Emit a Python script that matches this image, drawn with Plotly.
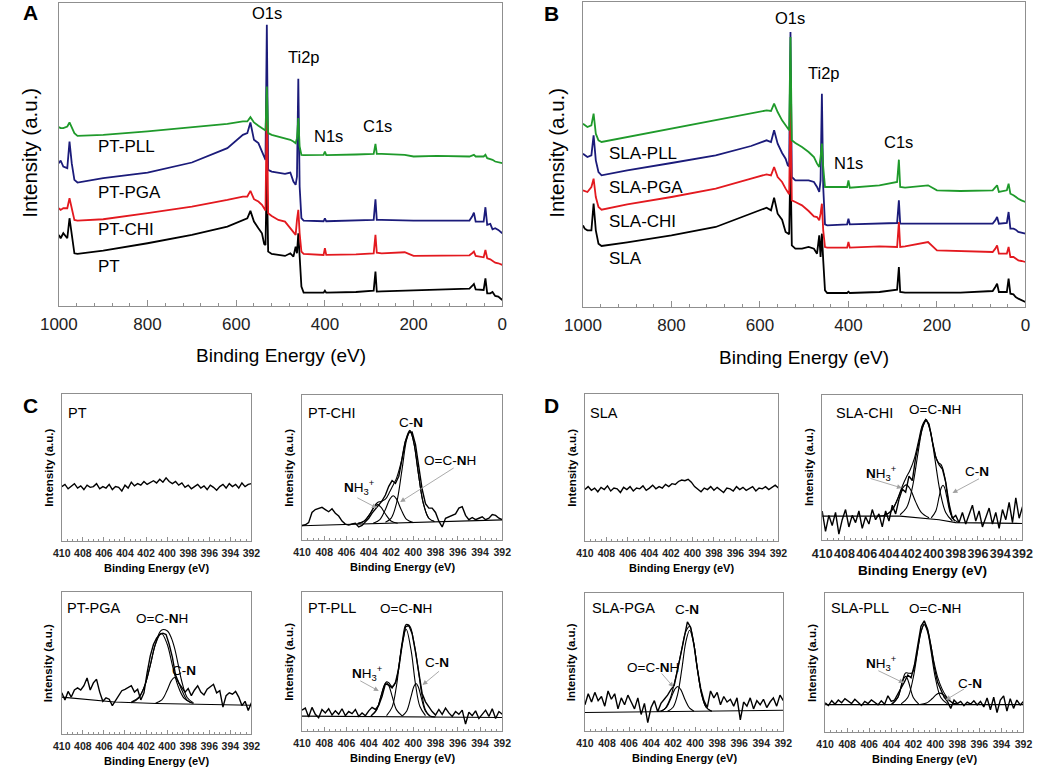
import plotly.graph_objects as go

W, H = 1050, 772
FONT = "Liberation Sans, Arial, Helvetica, sans-serif"
BOX = "#8f8f8f"

# ---- survey spectra (A, B): binding energy (eV) / intensity (a.u.) ----
SURVEY_EV = [1000, 996, 990, 981, 976, 971, 965, 958, 900, 800, 700, 620,
             585, 575, 568, 560, 550, 542, 537, 534, 531, 528, 520, 505,
             490, 478, 471, 466, 463, 460, 457, 453, 448, 403, 400, 397,
             330, 290, 286, 283, 272, 220, 200, 147, 74, 68, 64, 60,
             42, 38, 34, 27, 22, 16, 9, 0]

A_PT = [213, 203, 218, 203, 263, 218, 158, 156, 166, 188, 213, 238,
        258, 263, 285, 253, 233, 218, 186, 183, 398, 163, 156, 153,
        150, 158, 148, 178, 158, 218, 128, 58, 40, 40, 46, 40,
        42, 46, 103, 43, 44, 46, 46, 50, 52, 60, 66, 50,
        48, 83, 38, 38, 42, 30, 28, 18]
A_CHI = [293, 288, 293, 293, 323, 288, 258, 256, 260, 278, 298, 318,
         328, 328, 345, 320, 313, 303, 290, 286, 618, 278, 270, 258,
         253, 233, 218, 213, 258, 288, 218, 163, 156, 153, 173, 153,
         155, 158, 213, 160, 158, 161, 150, 150, 152, 158, 163, 150,
         146, 168, 143, 140, 136, 130, 128, 123]
A_PGA = [428, 436, 418, 413, 493, 428, 378, 370, 383, 400, 430, 473,
         513, 518, 550, 498, 488, 463, 443, 438, 843, 408, 403, 400,
         396, 400, 373, 363, 388, 681, 358, 263, 256, 254, 263, 254,
         256, 258, 320, 258, 258, 256, 256, 256, 256, 268, 280, 253,
         253, 296, 243, 246, 230, 233, 228, 218]
A_PLL = [536, 533, 533, 538, 550, 533, 518, 510, 513, 523, 536, 546,
         553, 553, 566, 550, 540, 533, 528, 526, 658, 518, 513, 508,
         503, 498, 493, 488, 503, 563, 478, 453, 452, 453, 463, 452,
         454, 456, 486, 456, 456, 453, 448, 450, 448, 451, 453, 448,
         448, 453, 443, 440, 438, 433, 431, 428]

B_SLA = [245, 235, 230, 230, 310, 230, 190, 183, 194, 215, 240, 280,
         298, 290, 328, 280, 262, 225, 220, 218, 440, 185, 175, 175,
         180, 175, 160, 215, 150, 220, 140, 50, 42, 42, 46, 42,
         45, 52, 120, 45, 43, 42, 43, 43, 48, 60, 70, 45,
         45, 85, 40, 38, 30, 25, 20, 15]
B_CHI = [350, 348, 345, 360, 385, 330, 300, 292, 308, 330, 355, 385,
         398, 395, 420, 390, 375, 355, 342, 338, 620, 320, 315, 305,
         288, 272, 270, 260, 280, 310, 230, 180, 178, 178, 195, 178,
         182, 180, 255, 180, 182, 195, 170, 168, 165, 175, 185, 160,
         160, 180, 150, 150, 145, 140, 138, 135]
B_PGA = [460, 455, 450, 455, 515, 440, 405, 395, 410, 432, 455, 483,
         500, 495, 530, 490, 462, 445, 425, 422, 825, 390, 380, 380,
         380, 375, 360, 345, 380, 640, 360, 248, 245, 248, 265, 248,
         250, 252, 320, 250, 250, 250, 250, 250, 250, 260, 270, 250,
         252, 285, 235, 235, 232, 225, 222, 220]
B_PLL = [550, 545, 540, 545, 580, 520, 500, 495, 510, 535, 560, 582,
         590, 588, 610, 585, 560, 545, 535, 530, 810, 500, 492, 480,
         465, 450, 430, 420, 450, 490, 420, 360, 360, 360, 380, 358,
         365, 375, 442, 360, 358, 365, 350, 348, 350, 358, 365, 345,
         350, 370, 340, 335, 330, 325, 320, 315]

BLACK, RED, NAVY, GREEN = "#000000", "#e3191f", "#1b1b7a", "#1f9a2b"

# ---- N1s high resolution spectra (C, D) ----
N1S_EV = [410.0, 409.7, 409.4, 409.1, 408.8, 408.5, 408.2, 407.9, 407.6, 407.3,
          407.0, 406.7, 406.4, 406.1, 405.8, 405.5, 405.2, 404.9, 404.6, 404.3,
          404.0, 403.7, 403.4, 403.1, 402.8, 402.5, 402.2, 401.9, 401.6, 401.3,
          401.0, 400.7, 400.4, 400.1, 399.8, 399.5, 399.2, 398.9, 398.6, 398.3,
          398.0, 397.7, 397.4, 397.1, 396.8, 396.5, 396.2, 395.9, 395.6, 395.3,
          395.0, 394.7, 394.4, 394.1, 393.8, 393.5, 393.2, 392.9, 392.6, 392.3,
          392.0]

PT_RAW = [37, 38.5, 35.5, 37, 39, 36, 37.5, 35, 38, 36.5,
          37, 39, 35.5, 37, 36, 38.5, 35, 37, 36.5, 34,
          38, 36, 40, 37.5, 39, 38, 40.5, 38.5, 40, 41,
          39.5, 42, 40, 43, 40.5, 39, 40.5, 38, 39.5, 36.5,
          38, 35.5, 37, 38.5, 36, 37.5, 35, 38, 36.5, 34.5,
          37, 38.5, 36, 39, 37, 38.5, 36, 39.5, 37, 38.5,
          39]
PT_CHI_RAW = [10, 10.5, 12, 19, 21, 21.5, 22.5, 21, 19.5, 21.5,
              18.5, 16.5, 13, 11, 10.3, 11, 11.5, 9, 10, 12.5,
              15, 18.5, 21.5, 24.5, 27, 31, 37, 41, 39, 44,
              57, 68, 74, 74.5, 66, 50, 35, 25, 22, 22,
              19, 13, 9, 15, 16, 16.5, 18, 22, 23, 17,
              14, 15.5, 14, 15, 16, 14, 15, 17.5, 17, 15,
              14]
PT_PGA_RAW = [29, 24, 30, 26, 31, 32.5, 31, 34, 39.5, 31,
              36, 38.5, 29.5, 23, 25.5, 24.5, 20, 23.5, 27, 30.5,
              31.5, 33, 34, 29.5, 31.5, 24, 29, 43, 55, 63,
              67.5, 70, 71, 70, 63, 54, 41.5, 36, 32.5, 29.5,
              32, 27, 31, 34, 29.5, 27.5, 31.5, 33, 35, 29,
              30.5, 19, 27, 29, 28, 30, 26, 20, 23, 16.5,
              22]
PT_PLL_RAW = [15, 16.5, 10, 17, 12, 9.5, 15.5, 13, 16, 11.5,
              14.5, 12, 16, 11, 14, 12.5, 15.5, 10.5, 13, 11,
              14.5, 17, 15.5, 18.5, 25, 34, 33, 31, 35, 45,
              62, 75, 76, 70, 57, 42, 27, 21, 17.5, 14,
              11.5, 15.5, 12, 16.5, 13, 10.5, 14, 12, 15, 5,
              13.5, 11, 14.5, 9, 12, 15, 10.5, 16, 9, 14,
              12]
SLA_RAW = [35, 37, 34.5, 36, 33.5, 36.5, 35, 37.5, 34, 36,
           35.5, 33, 36.5, 35, 37, 34, 36, 35.5, 37.5, 34.5,
           36, 38, 35.5, 37, 36, 38.5, 37, 39, 38.5, 40.5,
           41.5, 41, 42, 40, 37, 35.5, 33.5, 36, 35, 37,
           34.5, 36.5, 35, 33, 36, 35.5, 34, 37, 35, 36.5,
           34.5, 35.5, 37, 34, 36, 35.5, 37, 35, 36.5, 38,
           36]
SLA_CHI_RAW = [20, 6, 17, 10, 19, 4, 14, 21, 9, 17,
               12, 20, 8, 16, 11, 21, 14, 18, 9, 20,
               13, 24, 18, 28, 35, 33, 44, 41, 57, 68,
               78, 83, 80, 68, 57, 52, 49, 40, 25, 15,
               17, 12, 19, 11, 18, 24, 13, 20, 9, 16,
               22, 11, 19, 8, 21, 14, 26, 12, 29, 15,
               23]
SLA_PGA_RAW = [19, 27, 21, 28, 22, 25, 18, 29, 23, 27,
               16, 24, 19, 26, 21, 16, 24, 12, 20, 6,
               17, 22, 14, 20, 23, 26, 30, 33, 44, 55,
               68, 79, 75, 62, 45, 31, 22, 17, 29, 24,
               28, 19, 25, 21, 23, 18, 24, 8, 21, 18,
               24, 16, 22, 19, 23, 17, 21, 24, 18, 26,
               22]
SLA_PLL_RAW = [21, 19, 22.5, 20, 23, 21, 24, 22, 20.5, 23.5,
               21, 19, 22, 20.5, 23, 21, 19.5, 22.5, 20, 26,
               22, 23, 27, 31, 36, 41, 39, 48, 63, 76,
               80, 74, 62, 47, 36, 30, 25, 22, 17, 23,
               20.5, 22, 19, 21.5, 20, 22.5, 19.5, 22, 18, 24.5,
               16, 25, 14, 23, 26, 15, 24, 17, 23, 19.5,
               22]

# fitted components: (energies, intensities)
PT_CHI_BASE = ([410, 392], [9.8, 13.9])
PT_CHI_NH3 = ([405.0, 404.4, 403.9, 403.5, 403.2, 402.9, 402.5, 402.0, 401.4],
              [11.3, 13.0, 17.8, 22.6, 24.4, 22.6, 17.9, 13.1, 11.6])
PT_CHI_OCNH = ([403.6, 403.0, 402.5, 402.1, 401.8, 401.5, 401.1, 400.6, 400.0],
               [11.5, 14.1, 21.1, 28.2, 30.5, 28.2, 21.2, 14.2, 12.0])
PT_CHI_CN = ([402.5, 402.0, 401.5, 401.0, 400.6, 400.3, 400.0, 399.6, 399.1, 398.6, 398.1],
             [12.3, 14.9, 25.4, 49, 69, 75, 69, 49, 25.5, 15, 12.8])
PT_CHI_SUM = ([405.0, 404.4, 403.9, 403.5, 403.2, 402.9, 402.5, 402.1, 401.8, 401.5,
               401.1, 400.7, 400.3, 399.9, 399.5, 399.1, 398.6, 398.1],
              [11.3, 13.1, 17.9, 23.3, 25.9, 26.6, 28.2, 33.4, 38.0, 42.7,
               53.3, 68.5, 75.6, 65.1, 43.7, 25.5, 15.0, 12.8])

PT_PGA_BASE = ([410, 405, 401, 396, 392], [26, 22.5, 21.5, 20.8, 20.2])
PT_PGA_OCNH = ([403.4, 402.7, 402.1, 401.6, 401.1, 400.55, 400.0, 399.5, 399.0, 398.4, 397.7],
               [22, 25.3, 34.6, 48.4, 63.4, 71, 63.4, 48.4, 34.6, 25.3, 22])
PT_PGA_CN = ([401.1, 400.5, 400.0, 399.6, 399.3, 399.0, 398.6, 398.1, 397.5],
             [21.7, 24.0, 30.8, 37.6, 39.8, 37.6, 30.8, 23.9, 21.4])
PT_PGA_SUM = ([403.4, 402.7, 402.1, 401.6, 401.1, 400.55, 400.0, 399.6, 399.3, 399.0,
               398.6, 398.1, 397.5],
              [22.5, 25.8, 34.6, 48.4, 63.6, 73.1, 72.7, 67.6, 60.6, 50.7,
               36.8, 25.7, 21.9])

PT_PLL_BASE = ([410, 392], [10.7, 9.7])
PT_PLL_NH3 = ([403.8, 403.3, 402.9, 402.6, 402.4, 402.2, 401.9, 401.5, 401.0],
              [10.9, 15.2, 25.1, 32.8, 34.7, 32.8, 25.1, 15.2, 10.9])
PT_PLL_OCNH = ([402.4, 401.9, 401.5, 401.1, 400.64, 400.2, 399.8, 399.4, 398.9],
               [11.1, 17.2, 32.8, 57.2, 73.2, 58.3, 33.8, 17.6, 11.1])
PT_PLL_CN = ([401.0, 400.6, 400.2, 399.95, 399.75, 399.55, 399.3, 398.9, 398.5],
             [10.7, 14.2, 24.8, 31.9, 34.2, 31.9, 24.8, 14.2, 10.7])
PT_PLL_SUM = ([403.8, 403.3, 402.9, 402.6, 402.4, 402.2, 401.9, 401.6, 401.3, 401.0,
               400.64, 400.3, 400.0, 399.75, 399.5, 399.2, 398.9, 398.5, 398.0],
              [10.7, 15.0, 24.9, 32.9, 35.4, 34.7, 31.9, 34.5, 46.8, 63.8,
               76.6, 75.3, 66.5, 55.2, 41.2, 25.1, 15.1, 10.8, 10.2])

SLA_CHI_BASE = ([410, 403, 399.5, 398, 392], [16.5, 16.5, 14, 12, 11.4])
SLA_CHI_NH3 = ([404.5, 403.8, 403.3, 402.8, 402.45, 402.1, 401.6, 401.1, 400.4],
               [16.8, 19.9, 26.8, 35.5, 38.0, 35.3, 26.3, 19.1, 15.3])
SLA_CHI_OCNH = ([403.0, 402.4, 401.9, 401.4, 401.0, 400.66, 400.3, 399.9, 399.4, 398.9, 398.3],
                [17.4, 22.6, 36.1, 59.4, 76.7, 82.2, 75.5, 57.3, 33.2, 19.0, 13.1])
SLA_CHI_CN = ([400.2, 399.8, 399.5, 399.3, 399.14, 399.0, 398.8, 398.5, 398.1],
              [15.3, 19.8, 29.5, 36.0, 37.8, 36.1, 29.6, 18.9, 12.9])
SLA_CHI_SUM = ([405.0, 404.3, 403.7, 403.2, 402.8, 402.45, 402.1, 401.7, 401.3, 401.0,
                400.66, 400.3, 400.0, 399.6, 399.3, 399.0, 398.7, 398.3, 397.8],
               [16.5, 17.2, 21.0, 28.9, 37.1, 43.1, 48.3, 56.7, 69.8, 79.2,
                83.0, 75.9, 64.2, 53.7, 51.8, 43.9, 28.8, 15.3, 12.2])

SLA_PGA_BASE = ([410, 392], [13.4, 15])
SLA_PGA_OCNH = ([403.1, 402.6, 402.2, 401.85, 401.58, 401.3, 400.9, 400.5, 400.1],
                [14.2, 17.1, 23.6, 30.2, 32.3, 30.0, 22.4, 16.5, 14.4])
SLA_PGA_CN = ([402.5, 402.0, 401.6, 401.2, 400.85, 400.5, 400.15, 399.8, 399.4, 399.0, 398.5],
              [14.3, 17.2, 26.2, 45.2, 64.3, 73.0, 64.3, 45.2, 26.2, 17.2, 14.3])
SLA_PGA_SUM = ([403.4, 402.8, 402.3, 401.9, 401.58, 401.2, 400.85, 400.5, 400.15, 399.8,
                399.4, 399.0, 398.5],
               [14.1, 15.7, 22.8, 34.2, 45.4, 59.8, 72.0, 75.7, 64.9, 45.3,
                26.2, 17.2, 14.3])

SLA_PLL_BASE = ([410, 392], [19.7, 19.7])
SLA_PLL_NH3 = ([403.9, 403.4, 403.05, 402.85, 402.7, 402.55, 402.35, 402.0, 401.5],
               [20.0, 24.8, 34.0, 38.7, 40.0, 38.7, 34.0, 24.8, 20.0])
SLA_PLL_OCNH = ([403.1, 402.5, 402.0, 401.6, 401.3, 401.0, 400.7, 400.4, 400.0, 399.5, 398.9],
                [20.2, 24.8, 39.2, 58.7, 71.9, 77.2, 71.9, 58.7, 39.2, 24.8, 20.2])
SLA_PLL_CN = ([401.4, 400.8, 400.3, 399.9, 399.6, 399.3, 398.9, 398.4, 397.8],
              [19.8, 20.8, 23.9, 27.0, 28.0, 27.0, 23.9, 20.8, 19.8])
SLA_PLL_SUM = ([404.0, 403.4, 403.0, 402.7, 402.4, 402.1, 401.8, 401.5, 401.25, 401.0,
                400.7, 400.4, 400.1, 399.8, 399.4, 399.0, 398.5, 398.0],
               [19.9, 24.9, 36.2, 42.5, 42.3, 42.5, 50.5, 63.9, 73.6, 77.7,
                73.4, 62.1, 49.5, 39.7, 31.2, 25.5, 21.3, 19.9])

for arr in [A_PT, A_CHI, A_PGA, A_PLL, B_SLA, B_CHI, B_PGA, B_PLL]:
    assert len(arr) == len(SURVEY_EV), len(arr)
for arr in [PT_RAW, PT_CHI_RAW, PT_PGA_RAW, PT_PLL_RAW,
            SLA_RAW, SLA_CHI_RAW, SLA_PGA_RAW, SLA_PLL_RAW]:
    assert len(arr) == len(N1S_EV), len(arr)


def xdom(l, r):
    return [l / W, r / W]


def ydom(t, b):
    return [1 - b / H, 1 - t / H]


def px(x, y):
    return x / W, 1 - y / H


fig = go.Figure()


def add_line(xs, ys, ax, color=BLACK, width=1.0, shape="linear"):
    fig.add_trace(go.Scatter(
        x=xs, y=ys, mode="lines", xaxis="x" + ax, yaxis="y" + ax,
        line=dict(color=color, width=width, shape=shape),
        hoverinfo="skip", showlegend=False))


axes = {}

# survey panels: draw order black, navy, red, green
SURVEYS = [
    ("", (41, 497, 3, 306), 908, [(A_PT, BLACK), (A_PGA, NAVY), (A_CHI, RED), (A_PLL, GREEN)]),
    ("2", (580, 1035, 2, 307), 915, [(B_SLA, BLACK), (B_PGA, NAVY), (B_CHI, RED), (B_PLL, GREEN)]),
]
for ax, (l, r, t, b), ytop, series in SURVEYS:
    for vals, col in series:
        add_line(SURVEY_EV, vals, ax, col, 1.8)
    axes["xaxis" + ax] = dict(
        domain=xdom(l, r), anchor="y" + ax, range=[1000, 0], tick0=0, dtick=200,
        ticks="inside", ticklen=6, tickcolor=BOX,
        minor=dict(dtick=40, ticks="inside", ticklen=3, tickcolor=BOX),
        showline=True, linecolor=BOX, linewidth=1, mirror=True,
        showgrid=False, zeroline=False, tickangle=0, ticklabelstandoff=3,
        tickfont=dict(family=FONT, size=17, color="#222"))
    axes["yaxis" + ax] = dict(
        domain=ydom(t, b), anchor="x" + ax, range=[0, ytop],
        showticklabels=False, ticks="", showline=True, linecolor=BOX,
        linewidth=1, mirror=True, showgrid=False, zeroline=False)

SMALL = [
    ("3", (44, 239, 394, 541), PT_RAW, [], 10.5),
    ("4", (291, 497, 395, 540), PT_CHI_RAW,
     [PT_CHI_BASE, PT_CHI_NH3, PT_CHI_OCNH, PT_CHI_CN, PT_CHI_SUM], 10.5),
    ("5", (44, 239, 592, 734), PT_PGA_RAW,
     [PT_PGA_BASE, PT_PGA_OCNH, PT_PGA_CN, PT_PGA_SUM], 10.5),
    ("6", (291, 497, 592, 731), PT_PLL_RAW,
     [PT_PLL_BASE, PT_PLL_NH3, PT_PLL_OCNH, PT_PLL_CN, PT_PLL_SUM], 10.5),
    ("7", (582, 781, 394, 541), SLA_RAW, [], 10.5),
    ("8", (826, 1032, 395, 540), SLA_CHI_RAW,
     [SLA_CHI_BASE, SLA_CHI_NH3, SLA_CHI_OCNH, SLA_CHI_CN, SLA_CHI_SUM], 12.5),
    ("9", (582, 786, 593, 731), SLA_PGA_RAW,
     [SLA_PGA_BASE, SLA_PGA_OCNH, SLA_PGA_CN, SLA_PGA_SUM], 10.5),
    ("10", (829, 1033, 593, 732), SLA_PLL_RAW,
     [SLA_PLL_BASE, SLA_PLL_NH3, SLA_PLL_OCNH, SLA_PLL_CN, SLA_PLL_SUM], 10.5),
]

annotations = []


def note(x, y, text, size, bold=False, anchor="center", angle=0):
    ax_, ay_ = px(x, y)
    annotations.append(dict(
        x=ax_, y=ay_, xref="paper", yref="paper", text=text, showarrow=False,
        xanchor=anchor, yanchor="middle", textangle=angle,
        font=dict(family=FONT, size=size, color="black",
                  weight="bold" if bold else "normal")))


def arrow(x0, y0, x1, y1):
    hx, hy = px(x1, y1)
    annotations.append(dict(
        x=hx, y=hy, xref="paper", yref="paper", text="", showarrow=True,
        ax=x0 - x1, ay=y0 - y1, arrowhead=2, arrowsize=1.1, arrowwidth=0.9,
        arrowcolor="#a0a0a0"))


for ax, (l, r, t, b), raw, fits, tsize in SMALL:
    for ev, v in fits:
        shape = "linear" if len(ev) <= 5 else "spline"
        add_line(ev, v, ax, BLACK, 1.1, shape)
    add_line(N1S_EV, raw, ax, BLACK, 1.4)
    axes["xaxis" + ax] = dict(
        domain=xdom(l, r), anchor="y" + ax, range=[410, 392], tick0=0, dtick=2,
        ticks="inside", ticklen=4, tickcolor=BOX,
        minor=dict(dtick=0.5, ticks="inside", ticklen=2, tickcolor=BOX),
        showline=True, linecolor=BOX, linewidth=1, mirror=True,
        showgrid=False, zeroline=False, tickangle=0, ticklabelstandoff=2,
        tickfont=dict(family=FONT, size=tsize, color="#222", weight="bold"))
    axes["yaxis" + ax] = dict(
        domain=ydom(t, b), anchor="x" + ax, range=[0, 100],
        showticklabels=False, ticks="", showline=True, linecolor=BOX,
        linewidth=1, mirror=True, showgrid=False, zeroline=False)
    big = tsize > 11
    note((l + r) / 2, b + (30 if big else 27), "Binding Energy (eV)", 13.5 if big else 11, True)
    note(l - 14, (t + b) / 2, "Intensity (a.u.)", 11.5, True, angle=-90)

# panel A / B labels
note(269, 355, "Binding Energy (eV)", 19)
note(10, 153, "Intensity (a.u.)", 20.5, angle=-90)
note(807, 357, "Binding Energy (eV)", 19)
note(552, 153, "Intensity (a.u.)", 20.5, angle=-90)
for x, y, s in [(255, 13, "O1s"), (293, 57, "Ti2p"), (318, 136, "N1s"), (369, 126, "C1s"),
                (793, 18, "O1s"), (828, 73, "Ti2p"), (853, 163, "N1s"), (904, 142, "C1s")]:
    note(x, y, s, 16.5)
for y, s in [(146, "PT-PLL"), (192, "PT-PGA"), (230, "PT-CHI"), (266, "PT")]:
    note(79, y, s, 17, anchor="left")
for y, s in [(153, "SLA-PLL"), (188, "SLA-PGA"), (221, "SLA-CHI"), (258, "SLA")]:
    note(605, y, s, 17, anchor="left")
for x, y, s in [(12, 13, "A"), (548, 14, "B"), (12, 405, "C"), (548, 405, "D")]:
    note(x, y, s, 21, True)

# small panel names
for x, y, s in [(48, 413, "PT"), (295, 413, "PT-CHI"), (47, 608, "PT-PGA"), (295, 608, "PT-PLL"),
                (585, 413, "SLA"), (838, 413, "SLA-CHI"), (587, 608, "SLA-PGA"), (833, 608, "SLA-PLL")]:
    note(x, y, s, 14.5, anchor="left")

CN = "C-<b>N</b>"
OCNH = "O=C-<b>N</b>H"
NH3 = "<b>N</b>H<sub>3</sub><sup>+</sup>"
for x, y, s in [(403, 422, CN), (443, 460, OCNH), (350, 487, NH3),
                (147, 618, OCNH), (170, 670, CN),
                (398, 608, OCNH), (430, 662, CN), (358, 673, NH3),
                (942, 409, OCNH), (887, 473, NH3), (985, 472, CN),
                (687, 609, CN), (652, 667, OCNH),
                (942, 608, OCNH), (887, 663, NH3), (978, 683, CN)]:
    note(x, y, s, 13.5)

for seg in [(347, 497, 368, 508), (447, 467, 392, 502),
            (350, 680, 370, 691), (433, 670, 415, 685),
            (875, 478, 908, 488), (988, 478, 960, 493),
            (660, 672, 673, 687),
            (883, 670, 910, 683), (973, 688, 953, 700)]:
    arrow(*seg)

fig.update_layout(
    width=W, height=H, margin=dict(l=0, r=0, t=0, b=0),
    paper_bgcolor="white", plot_bgcolor="white",
    showlegend=False, annotations=annotations,
    font=dict(family=FONT, color="black"),
    **axes)

# the page body keeps its default 8px margin otherwise
fig.write_html("out.html", post_script="document.body.style.margin='0';",
               config={"displayModeBar": False})
